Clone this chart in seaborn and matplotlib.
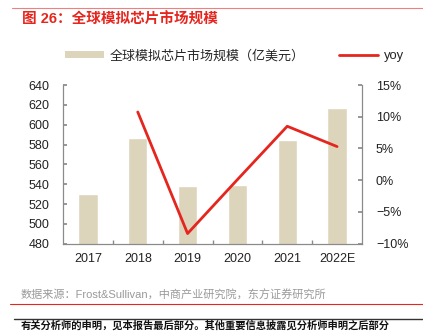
import numpy as np
import pandas as pd
import matplotlib
matplotlib.use("Agg")
import matplotlib.pyplot as plt
import seaborn as sns
from matplotlib.patches import Patch
from matplotlib.lines import Line2D
from matplotlib.ticker import FixedLocator, PercentFormatter

years = ["2017", "2018", "2019", "2020", "2021", "2022E"]
market = [530, 587, 538, 539, 585, 616.5]
yoy_years = ["2018", "2019", "2020", "2021", "2022E"]
yoy = [10.75, -8.4, 0.1, 8.5, 5.3]

bar_label = "全球模拟芯片市场规模（亿美元）"
line_label = "yoy"
title = "图 26：全球模拟芯片市场规模"
source = "数据来源：Frost&Sullivan，中商产业研究院，东方证券研究所"
footer = "有关分析师的申明，见本报告最后部分。其他重要信息披露见分析师申明之后部分"

sns.set_theme(style="white")
plt.rcParams['font.family'] = ['Liberation Sans', 'Noto Sans CJK SC', 'DejaVu Sans']

BAR = "#DDD4BC"
RED = "#E5261E"
GRAY = "#8A8A8A"

fig = plt.figure(figsize=(4.23, 3.32), dpi=100)
ax = fig.add_axes([63/423, 88.3/332, (362-63)/423, (243.7-85)/332])

df = pd.DataFrame({"year": years, "value": market})
sns.barplot(data=df, x="year", y="value", color=BAR, saturation=1, width=0.39, ax=ax)
ax.set_ylim(480, 640)
ax.set_yticks(np.arange(480, 641, 20))
ax.set_xlabel("")
ax.set_ylabel("")
ax.set_xlim(-0.5, 5.5)

ax2 = ax.twinx()
dfl = pd.DataFrame({"year": yoy_years, "yoy": yoy})
sns.lineplot(data=dfl, x="year", y="yoy", color=RED, linewidth=2, ax=ax2, sort=False)
ax2.set_ylim(-10, 15)
ax2.set_yticks(np.arange(-10, 16, 5))
ax2.yaxis.set_major_formatter(PercentFormatter(decimals=0))
ax2.set_ylabel("")
ax2.set_xlabel("")
ax2.set_xlim(-0.5, 5.5)

for a in (ax, ax2):
    for s in a.spines.values():
        s.set_color(GRAY)
        s.set_linewidth(0.8)
    a.spines["top"].set_visible(False)

ax.tick_params(axis="y", direction="in", length=3, color=GRAY, labelsize=9, pad=10, left=True, labelcolor="#222222")
ax2.tick_params(axis="y", direction="in", length=3, color=GRAY, labelsize=9, pad=10, right=True, labelcolor="#222222")
ax.tick_params(axis="x", which="major", length=0, labelsize=9, pad=7, labelcolor="#222222")
ax.xaxis.set_minor_locator(FixedLocator(np.arange(0.5, 5, 1)))
ax.tick_params(axis="x", which="minor", direction="in", length=3, color=GRAY, bottom=True)
ax2.tick_params(axis="x", which="both", length=0)

handles = [Patch(facecolor=BAR, edgecolor="none"), Line2D([0], [0], color=RED, lw=2)]
fig.legend(handles, [bar_label, line_label], loc="center left", bbox_to_anchor=(62/423, 1-56/332),
           ncol=2, frameon=False, fontsize=9.4, handlelength=3.0, handleheight=0.5,
           columnspacing=2.6, handletextpad=0.45, borderaxespad=0, borderpad=0.2)

fig.text(22/423, 1-20/332, title, color=RED, fontsize=10.5, fontweight="bold", va="center", ha="left")
fig.add_artist(Line2D([12/423, 1], [1-8/332, 1-8/332], color="#F08080", lw=0.8, transform=fig.transFigure))
fig.text(21/423, 1-295/332, source, color="#9A9A9A", fontsize=8, va="center", ha="left")
fig.add_artist(Line2D([10/423, 1], [1-304/332, 1-304/332], color=RED, lw=0.8, transform=fig.transFigure))
fig.add_artist(Line2D([14/423, 1], [1-319/332, 1-319/332], color="#333333", lw=1.0, transform=fig.transFigure))
fig.text(21/423, 1-325.5/332, footer, color="#111111", fontsize=7.4, fontweight="bold", va="center", ha="left")

fig.savefig("out.png", dpi=100)
